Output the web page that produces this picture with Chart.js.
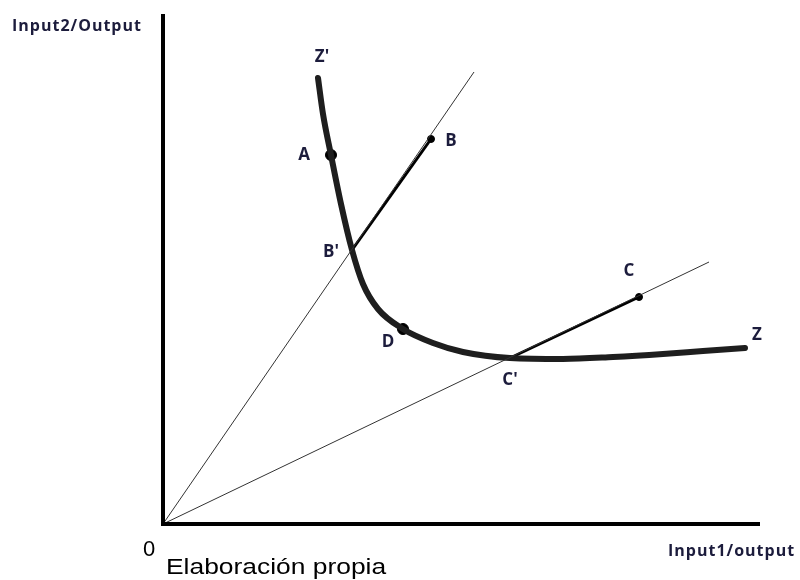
<!DOCTYPE html>
<html>
<head>
<meta charset="utf-8">
<script src="https://cdn.jsdelivr.net/npm/chart.js@4.4.1/dist/chart.umd.min.js"></script>
<style>
html,body{margin:0;padding:0;background:#fff;}
#wrap{width:800px;height:580px;position:relative;}
</style>
</head>
<body>
<div id="wrap"><canvas id="c" width="800" height="580"></canvas></div>
<script>
// Isoquant Z'Z (input1/output, input2/output)
const isoquantX = [155, 160, 168, 178, 189, 200, 215, 240, 270, 300, 347, 400, 450, 500, 540, 582];
const isoquantY = [446, 410, 369, 320, 274, 240, 215, 195, 181, 172, 166, 165, 167, 170, 173, 176];
// Rays from origin
const ray1 = [[0, 0], [311, 452]];
const ray2 = [[0, 0], [546, 262]];
// Firms
const segB = [[189, 274], [268, 385]];   // B' -> B
const segC = [[347, 166], [476, 227]];   // C' -> C
const bigDots = [[168, 369], [240, 195]]; // A, D
const smallDots = [[268, 385], [476, 227]]; // B, C
// Point labels: [text, x, y]
const pointLabels = [
  ["Z'", 159, 467], ["A", 141, 369], ["B", 288, 383], ["B'", 168, 272],
  ["D", 225, 182], ["C", 466, 253], ["C'", 347, 144], ["Z", 594, 189]
];
const xMax = 597, yMax = 510;

const toPts = a => a.map(p => ({x: p[0], y: p[1]}));

const labelPlugin = {
  id: 'labels',
  afterDraw(chart) {
    const {ctx, chartArea, scales} = chart;
    ctx.save();
    // axes
    ctx.strokeStyle = '#000';
    ctx.lineWidth = 4;
    ctx.beginPath();
    ctx.moveTo(chartArea.left, chartArea.top);
    ctx.lineTo(chartArea.left, chartArea.bottom);
    ctx.lineTo(chartArea.right, chartArea.bottom);
    ctx.stroke();
    // point labels
    ctx.fillStyle = '#1c1c3c';
    ctx.font = 'bold 17px "Open Sans"';
    ctx.textAlign = 'center';
    ctx.textBaseline = 'middle';
    pointLabels.forEach(l => {
      ctx.fillText(l[0], scales.x.getPixelForValue(l[1]), scales.y.getPixelForValue(l[2]));
    });
    // axis titles
    ctx.font = 'bold 16px "Open Sans"';
    ctx.textAlign = 'left';
    ctx.textBaseline = 'alphabetic';
    ctx.letterSpacing = '1px';
    ctx.fillText('Input2/Output', 12, 31);
    ctx.fillText('Input1/output', 668, 556);
    ctx.letterSpacing = '0px';
    ctx.fillStyle = '#000';
    ctx.font = '22px "Liberation Sans"';
    ctx.fillText('0', 143, 556);
    ctx.save();
    ctx.translate(166, 574);
    ctx.scale(1.2, 1);
    ctx.font = '22px "Liberation Sans"';
    ctx.fillText('Elaboración propia', 0, 0);
    ctx.restore();
    ctx.restore();
  }
};

new Chart(document.getElementById('c'), {
  type: 'scatter',
  data: {
    datasets: [
      {data: toPts(ray1), showLine: true, borderColor: '#333', borderWidth: 1, pointRadius: 0},
      {data: toPts(ray2), showLine: true, borderColor: '#333', borderWidth: 1, pointRadius: 0},
      {data: isoquantX.map((x, i) => ({x, y: isoquantY[i]})), showLine: true, borderColor: '#1e1e1e',
       borderWidth: 6, pointRadius: 0, cubicInterpolationMode: 'monotone', borderCapStyle: 'round'},
      {data: toPts(segB), showLine: true, borderColor: '#000', borderWidth: 3, pointRadius: 0},
      {data: toPts(segC), showLine: true, borderColor: '#000', borderWidth: 3, pointRadius: 0},
      {data: toPts(bigDots), showLine: false, pointRadius: 5.5, backgroundColor: '#000', borderColor: '#000'},
      {data: toPts(smallDots), showLine: false, pointRadius: 3.5, backgroundColor: '#000', borderColor: '#000'}
    ]
  },
  options: {
    responsive: false,
    animation: false,
    layout: {padding: {left: 163, right: 40, top: 14, bottom: 56}},
    plugins: {legend: {display: false}, tooltip: {enabled: false}},
    scales: {
      x: {type: 'linear', min: 0, max: xMax, display: false},
      y: {type: 'linear', min: 0, max: yMax, display: false}
    }
  },
  plugins: [labelPlugin]
});
</script>
</body>
</html>
